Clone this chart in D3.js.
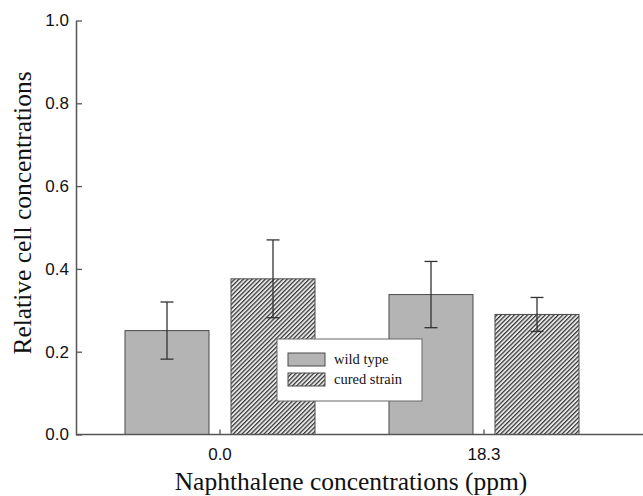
<!DOCTYPE html>
<html>
<head>
<meta charset="utf-8">
<script src="https://cdn.jsdelivr.net/npm/d3@7"></script>
<style>
  html, body { margin: 0; padding: 0; background: #fff; }
  svg { display: block; }
  .serif { font-family: "Liberation Serif", "Times New Roman", Times, "DejaVu Serif", serif; }
  .sans { font-family: "Liberation Sans", Arial, Helvetica, sans-serif; }
</style>
</head>
<body>
<svg id="chart" width="643" height="496"></svg>
<script>
// ---- data ----
const categories = ["0.0", "18.3"];
const seriesNames = ["wild type", "cured strain"];
const wildType = [0.251, 0.338];
const wildTypeErr = [0.069, 0.080];
const curedStrain = [0.376, 0.290];
const curedStrainErr = [0.094, 0.041];
const yTicks = [0.0, 0.2, 0.4, 0.6, 0.8, 1.0];

const seriesValues = [wildType, curedStrain];
const seriesErrs = [wildTypeErr, curedStrainErr];
const rows = [];
categories.forEach((c, i) => {
  seriesNames.forEach((s, j) => {
    rows.push({ cat: c, series: s, value: seriesValues[j][i], err: seriesErrs[j][i] });
  });
});

const svg = d3.select("#chart");
const W = 643, H = 496;
const axisColor = "#555";

const y = d3.scaleLinear().domain([0, 1]).range([434.5, 20.5]);
const x = d3.scaleBand().domain(categories).range([88, 616]).paddingInner(0).paddingOuter(0);
const xs = d3.scaleBand().domain(seriesNames).range([0, x.bandwidth()])
  .paddingInner(22 / 106).paddingOuter(0.349);

// hatch pattern
const defs = svg.append("defs");
const pat = defs.append("pattern")
  .attr("id", "hatch")
  .attr("patternUnits", "userSpaceOnUse")
  .attr("width", 3.1).attr("height", 3.1)
  .attr("patternTransform", "rotate(45)");
pat.append("rect").attr("width", 3.1).attr("height", 3.1).attr("fill", "#e6e6e6");
pat.append("line").attr("x1", 0.6).attr("y1", 0).attr("x2", 0.6).attr("y2", 3.1)
  .attr("stroke", "#333").attr("stroke-width", 1.2);

const fillFor = s => s === "wild type" ? "#b4b4b4" : "url(#hatch)";

// bars
svg.append("g").selectAll("rect").data(rows).join("rect")
  .attr("x", d => x(d.cat) + xs(d.series))
  .attr("y", d => y(d.value))
  .attr("width", xs.bandwidth())
  .attr("height", d => y(0) - y(d.value))
  .attr("fill", d => fillFor(d.series))
  .attr("stroke", "#4a4a4a")
  .attr("stroke-width", 1);

// error bars
const eg = svg.append("g").attr("stroke", "#333").attr("stroke-width", 1.3);
rows.forEach(d => {
  const cx = x(d.cat) + xs(d.series) + xs.bandwidth() / 2;
  const top = y(d.value + d.err), bot = y(d.value - d.err);
  eg.append("line").attr("x1", cx).attr("x2", cx).attr("y1", top).attr("y2", bot);
  eg.append("line").attr("x1", cx - 6.5).attr("x2", cx + 6.5).attr("y1", top).attr("y2", top);
  eg.append("line").attr("x1", cx - 6.5).attr("x2", cx + 6.5).attr("y1", bot).attr("y2", bot);
});

// y axis
const yAxis = svg.append("g").attr("transform", "translate(76,0)")
  .call(d3.axisLeft(y).tickValues(yTicks).tickFormat(d3.format(".1f")).tickSize(-6).tickPadding(7).tickSizeOuter(0));
yAxis.attr("font-family", null).attr("font-size", null);
yAxis.select(".domain").attr("stroke", axisColor).attr("stroke-width", 1.5);
yAxis.selectAll(".tick line").attr("stroke", axisColor).attr("stroke-width", 1.3);
yAxis.selectAll("text").attr("class", "sans").style("font-size", "17px").attr("fill", "#111");

// x axis
const xAxis = svg.append("g").attr("transform", `translate(0,${y(0)})`)
  .call(d3.axisBottom(x).tickSize(-5).tickPadding(13).tickSizeOuter(0));
xAxis.attr("font-family", null).attr("font-size", null);
xAxis.select(".domain").remove();
xAxis.append("line").attr("x1", 76).attr("x2", W).attr("y1", 0).attr("y2", 0)
  .attr("stroke", axisColor).attr("stroke-width", 1.5);
xAxis.selectAll(".tick line").attr("stroke", axisColor).attr("stroke-width", 1.3);
xAxis.selectAll("text").attr("class", "sans").style("font-size", "17px").attr("fill", "#111");

// axis titles
svg.append("text")
  .attr("class", "serif")
  .attr("x", 351).attr("y", 490)
  .attr("text-anchor", "middle")
  .style("font-size", "25.5px").attr("fill", "#111")
  .text("Naphthalene concentrations (ppm)");

svg.append("text")
  .attr("class", "serif")
  .attr("transform", "translate(31,213) rotate(-90)")
  .attr("text-anchor", "middle")
  .style("font-size", "25.5px").attr("fill", "#111")
  .text("Relative cell concentrations");

// legend
const lg = svg.append("g").attr("transform", "translate(277,339)");
lg.append("rect").attr("width", 145).attr("height", 62)
  .attr("fill", "#fff").attr("stroke", "#666").attr("stroke-width", 1);
seriesNames.forEach((s, i) => {
  const gy = 14 + i * 20;
  lg.append("rect").attr("x", 11).attr("y", gy).attr("width", 37).attr("height", 13)
    .attr("fill", fillFor(s)).attr("stroke", "#4a4a4a").attr("stroke-width", 1);
  lg.append("text").attr("class", "serif").attr("x", 57).attr("y", gy + 11)
    .style("font-size", "14.5px").attr("fill", "#111")
    .text(s);
});
</script>
</body>
</html>
